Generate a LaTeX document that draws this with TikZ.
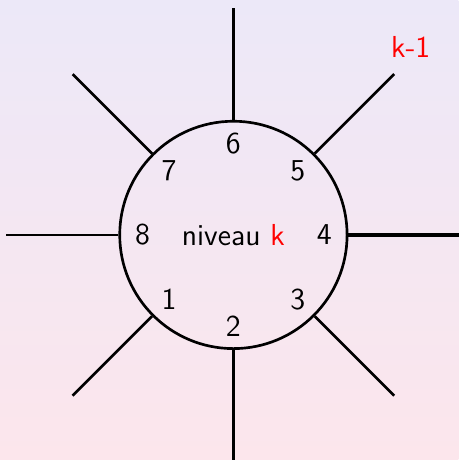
\documentclass[tikz,border=0pt]{standalone}
\usepackage{xcolor}
\definecolor{fondhaut}{RGB}{236,232,248}
\definecolor{fondbas}{RGB}{252,230,236}
\begin{document}
\begin{tikzpicture}[font=\sffamily\fontsize{11.4}{13}\selectfont, line width=1pt]
    % Background
    \useasboundingbox (-3.08,-2.97) rectangle (2.97,3.10);
    \shade[top color=fondhaut, bottom color=fondbas] (-3.08,-2.97) rectangle (2.97,3.10);
    
    % Level circle
    \node[circle, draw, minimum size=3cm, inner sep=0pt] (niv) at (0,0) {niveau {\color{red}k}};
    
    % Rays
    \foreach \i in {1,2,3,5,6,7,8} {
        \pgfmathtruncatemacro\ang{mod(180+45*\i,360)}
        \coordinate (bout\i) at (\ang:3);
        \draw (niv.\ang) -- (bout\i);
    }
    \coordinate (bout4) at (0:3);
    \draw[line width=1.5pt] (niv.0) -- (bout4);
    
    % Numbers
    \foreach \i in {1,...,8} {
        \node (num\i) at ({180+45*\i}:1.2) {\i};
    }
    
    % Upper level
    \node[red] (kmoins) at (2.34,2.48) {k-1};
\end{tikzpicture}
\end{document}
